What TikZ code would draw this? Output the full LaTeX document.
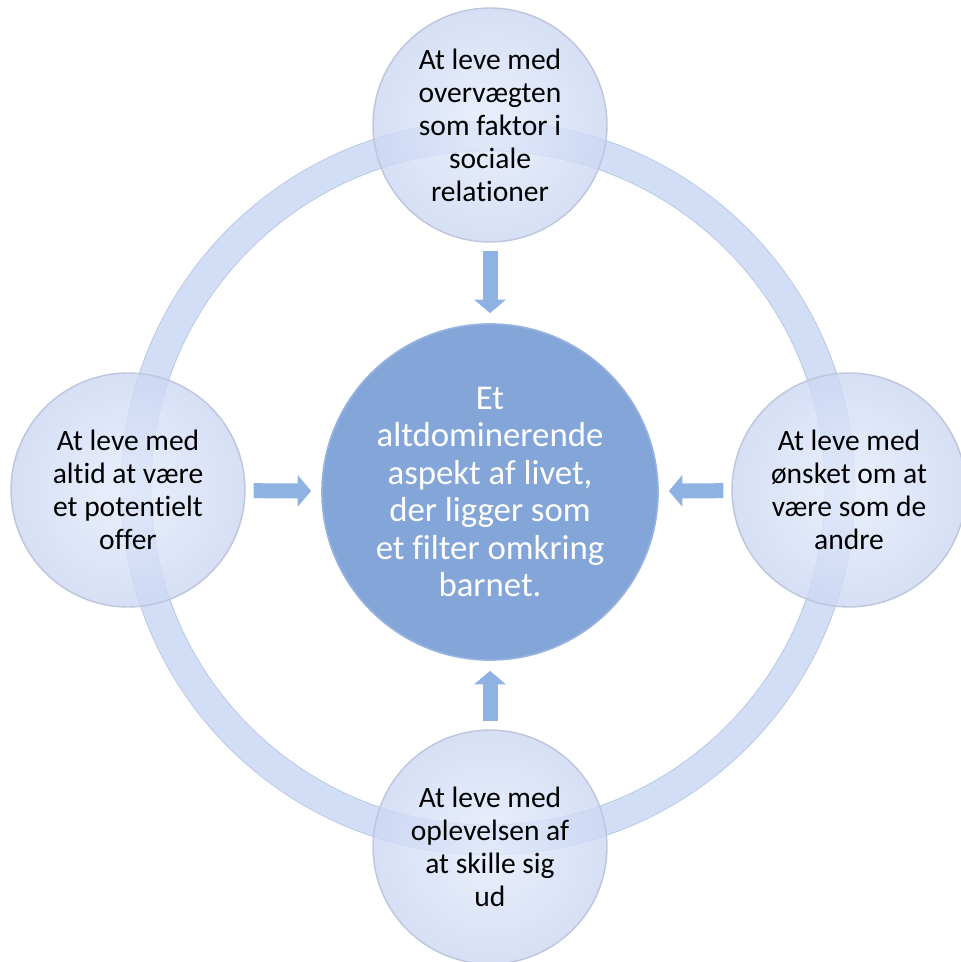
\documentclass[tikz,border=0pt]{standalone}
\usepackage{fontspec}
\setmainfont{Carlito}[Ligatures=NoCommon]
\usetikzlibrary{arrows.meta}

\definecolor{bandfill}{RGB}{210,222,246}
\definecolor{bandedge}{RGB}{185,198,226}
\definecolor{bubblein}{RGB}{230,236,252}
\definecolor{bubbleout}{RGB}{204,215,243}
\definecolor{bubbleedge}{RGB}{190,198,220}
\definecolor{hubblue}{RGB}{131,165,216}
\definecolor{hubedge}{RGB}{150,178,222}
\definecolor{feedblue}{RGB}{142,178,226}

\tikzset{
  theme/.style = {circle, minimum size=4.68cm, inner sep=0pt,
                  align=center, draw=bubbleedge, line width=0.8pt,
                  inner color=bubblein, outer color=bubbleout,
                  fill opacity=0.8, text opacity=1,
                  font=\fontsize{16.8}{18.8}\selectfont},
  hub/.style   = {circle, minimum size=6.72cm, inner sep=0pt,
                  align=center, fill=hubblue, draw=hubedge,
                  line width=1pt, text=white,
                  font=\fontsize{19.8}{21.3}\selectfont},
  band/.style  = {draw=bandedge, line width=0.5pt,
                  double=bandfill, double distance=0.58cm},
  feed/.style  = {draw=feedblue, line width=0.3cm,
                  -{Triangle[width=0.62cm,length=0.27cm]},
                  shorten <=0.16cm, shorten >=0.2cm}
}

\begin{document}
\begin{tikzpicture}[x=0.02cm,y=-0.02cm]
\useasboundingbox (0,0) rectangle (960,962);

% the ring behind everything
\coordinate (mid) at (488,488);
\draw [band] (mid) circle [radius=7.04cm];

\node [hub] (core) at (490,492)
  {Et\\altdominerende\\aspekt af livet,\\der ligger som\\et filter omkring\\barnet.};

\node [theme] (top)   at (490,125) {At leve med\\overvægten\\som faktor i\\sociale\\relationer};
\node [theme] (left)  at (128,490) {At leve med\\altid at være\\et potentielt\\offer};
\node [theme] (right) at (849,490) {At leve med\\ønsket om at\\være som de\\andre};
\node [theme] (bot)   at (490,847) {At leve med\\oplevelsen af\\at skille sig\\ud};

\draw [feed] (top)   -- (core);
\draw [feed] (left)  -- (core);
\draw [feed] (right) -- (core);
\draw [feed] (bot)   -- (core);
\end{tikzpicture}
\end{document}
